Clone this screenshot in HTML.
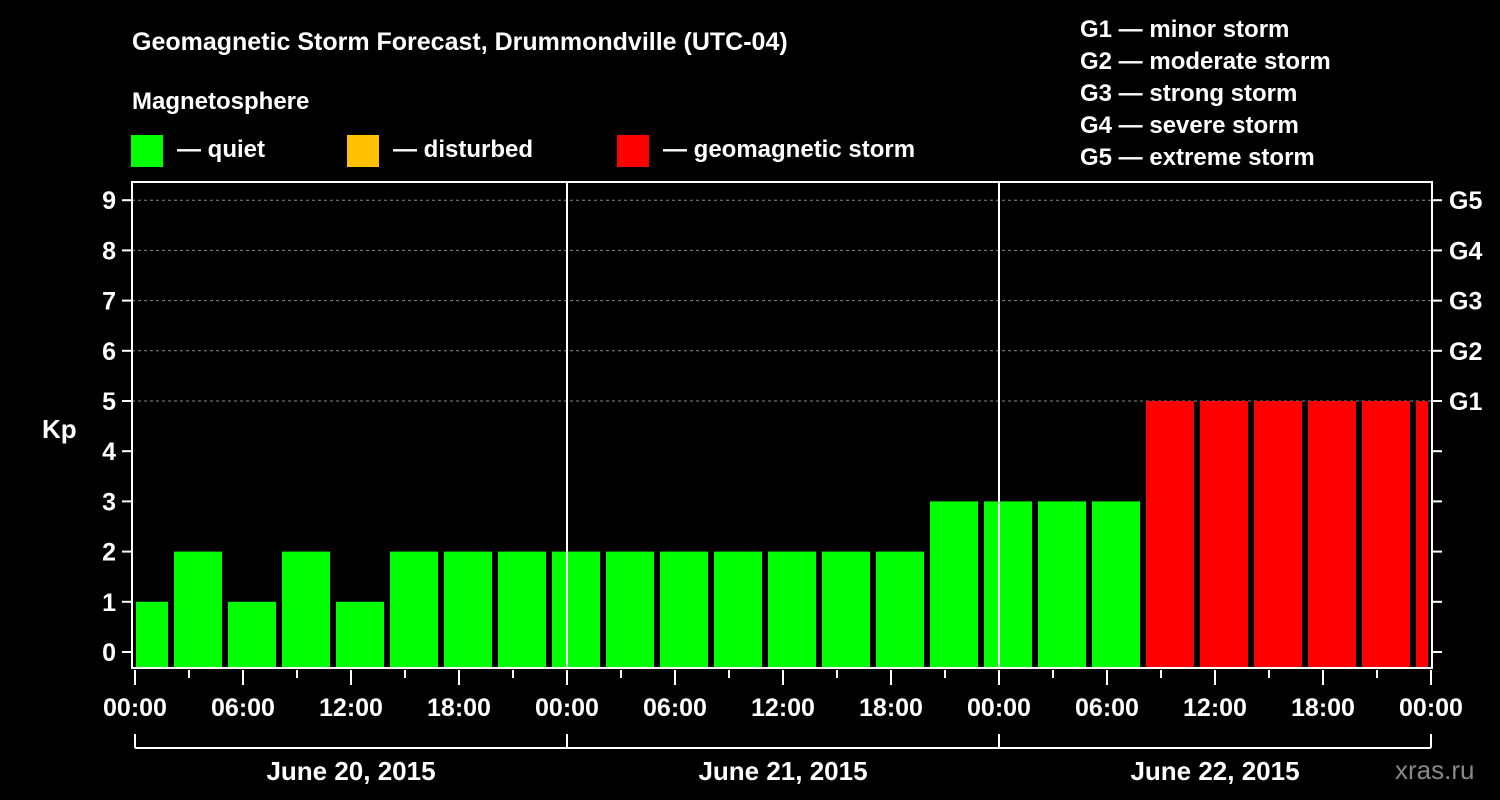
<!DOCTYPE html>
<html><head><meta charset="utf-8"><style>
body{margin:0;background:#000;}
svg{display:block;font-family:"Liberation Sans",Arial,sans-serif;font-weight:bold;}
</style></head><body>
<svg id="c" width="1500" height="800" xmlns="http://www.w3.org/2000/svg">
<rect width="1500" height="800" fill="#000"/>
<text x="132" y="50" fill="#fff" font-size="25">Geomagnetic Storm Forecast, Drummondville (UTC-04)</text>
<text x="132" y="109" fill="#fff" font-size="24">Magnetosphere</text>
<g><rect x="131" y="135" width="32" height="32" fill="#00ff00"/><text x="177" y="157" fill="#fff" font-size="24">— quiet</text></g>
<g><rect x="347" y="135" width="32" height="32" fill="#ffc000"/><text x="393" y="157" fill="#fff" font-size="24">— disturbed</text></g>
<g><rect x="617" y="135" width="32" height="32" fill="#ff0000"/><text x="663" y="157" fill="#fff" font-size="24">— geomagnetic storm</text></g>
<g fill="#fff" font-size="24">
<text x="1080" y="37">G1 — minor storm</text>
<text x="1080" y="69">G2 — moderate storm</text>
<text x="1080" y="101">G3 — strong storm</text>
<text x="1080" y="133">G4 — severe storm</text>
<text x="1080" y="165">G5 — extreme storm</text>
</g>
<text x="42" y="438" fill="#fff" font-size="26">Kp</text>
<text x="1395" y="779" fill="#888" font-size="26" font-weight="normal">xras.ru</text>
<g id="grid"></g><g id="bars"></g><g id="axes"></g>
</svg>
<script>
const kpValues=[1,2,1,2,1,2,2,2,2,2,2,2,2,2,2,3,3,3,3,5,5,5,5,5,5];
const yTicks=[0,1,2,3,4,5,6,7,8,9];
const gLabels=["G1","G2","G3","G4","G5"];
const xTickLabels=["00:00","06:00","12:00","18:00","00:00","06:00","12:00","18:00","00:00","06:00","12:00","18:00","00:00"];
const dayLabels=["June 20, 2015","June 21, 2015","June 22, 2015"];
const NS="http://www.w3.org/2000/svg";
const X0=135,PXH=18,Y0=652,PXK=50.2,L=132,R=1432,T=182,B=668;
const x=h=>X0+h*PXH, y=k=>Y0-k*PXK;
function mk(p,tag,a){const e=document.createElementNS(NS,tag);for(const k in a)e.setAttribute(k,a[k]);document.getElementById(p)?document.getElementById(p).appendChild(e):p.appendChild(e);return e;}
// grid
for(let k=5;k<=9;k++){const e=mk('grid','line',{x1:L,x2:R,y1:y(k),y2:y(k),stroke:'#888','stroke-dasharray':'3,3','stroke-width':1});

}
// bars
kpValues.forEach((v,i)=>{let a=x(3*i-1)+3,b=x(3*i+2)-3;a=Math.max(a,136);b=Math.min(b,1428);
const col=v>=5?'#ff0000':(v>=4?'#ffc000':'#00ff00');
const e=mk('bars','rect',{x:a,y:y(v),width:b-a,height:B-y(v),fill:col});

});
// axes
const ax='axes';
mk(ax,'rect',{x:L,y:T,width:R-L,height:B-T,fill:'none',stroke:'#fff','stroke-width':2});
[1,2].forEach(d=>mk(ax,'line',{x1:x(24*d),x2:x(24*d),y1:T,y2:B,stroke:'#fff','stroke-width':2}));
yTicks.forEach(k=>{mk(ax,'line',{x1:122,x2:L,y1:y(k),y2:y(k),stroke:'#fff','stroke-width':2});
mk(ax,'line',{x1:R,x2:1442,y1:y(k),y2:y(k),stroke:'#fff','stroke-width':2});
const t=mk(ax,'text',{x:116,y:y(k)+9,fill:'#fff','font-size':25,'text-anchor':'end'});t.textContent=k;

});
gLabels.forEach((g,i)=>{const t=mk(ax,'text',{x:1449,y:y(i+5)+9,fill:'#fff','font-size':25});t.textContent=g;

});
for(let h=0;h<=72;h+=3){const maj=h%6==0;mk(ax,'line',{x1:x(h),x2:x(h),y1:670,y2:maj?685:678,stroke:'#fff','stroke-width':2});}
xTickLabels.forEach((s,i)=>{const t=mk(ax,'text',{x:x(i*6),y:716,fill:'#fff','font-size':25,'text-anchor':'middle'});t.textContent=s;

});
mk(ax,'line',{x1:x(0),x2:x(72),y1:748,y2:748,stroke:'#fff','stroke-width':2});
for(let d=0;d<=3;d++)mk(ax,'line',{x1:x(24*d),x2:x(24*d),y1:734,y2:748,stroke:'#fff','stroke-width':2});
dayLabels.forEach((s,i)=>{const t=mk(ax,'text',{x:x(24*i+12),y:780,fill:'#fff','font-size':26,'text-anchor':'middle'});t.textContent=s;

});
</script>
</body></html>
